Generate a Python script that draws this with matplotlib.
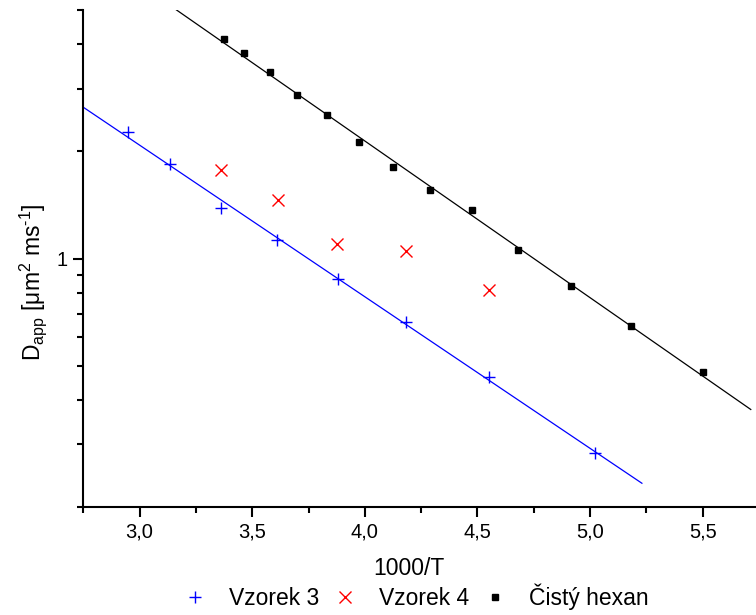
import numpy as np
import matplotlib
matplotlib.use("Agg")
import matplotlib.pyplot as plt
from matplotlib.ticker import MultipleLocator, FixedLocator, FuncFormatter, NullFormatter

plt.rcParams['font.family'] = ['Liberation Sans', 'DejaVu Sans']
plt.rcParams['mathtext.fontset'] = 'custom'
plt.rcParams['mathtext.rm'] = 'Liberation Sans'
plt.rcParams['mathtext.it'] = 'Liberation Sans'
plt.rcParams['mathtext.default'] = 'regular'

# data (x = 1000/T, y = D_app)
x_v3 = [2.949, 3.136, 3.361, 3.610, 3.879, 4.182, 4.552, 5.023]
y_v3 = [2.27, 1.84, 1.388, 1.126, 0.876, 0.662, 0.465, 0.283]

x_v4 = [3.361, 3.614, 3.876, 4.182, 4.551]
y_v4 = [1.77, 1.456, 1.102, 1.048, 0.815]

x_hex = [3.373, 3.462, 3.577, 3.700, 3.832, 3.974, 4.125, 4.290,
         4.475, 4.680, 4.915, 5.181, 5.501]
y_hex = [4.15, 3.78, 3.34, 2.88, 2.53, 2.13, 1.81, 1.56,
         1.373, 1.057, 0.838, 0.647, 0.480]

labels = ['Vzorek 3', 'Vzorek 4', 'Čistý hexan']


def fit_line(x, y):
    # linear fit of log(y), drawn 10 % past the data range on each side
    x = np.asarray(x)
    b, a = np.polyfit(x, np.log10(y), 1)
    span = x.max() - x.min()
    xs = np.array([x.min() - 0.1 * span, x.max() + 0.1 * span])
    return xs, 10 ** (a + b * xs)


fig = plt.figure(figsize=(7.56, 6.15), dpi=100)
ax = fig.add_axes([83.3 / 756, 108 / 615, 672.7 / 756, 497 / 615])

fx, fy = fit_line(x_v3, y_v3)
ax.plot(fx, fy, color='blue', lw=0.9)
fx, fy = fit_line(x_hex, y_hex)
ax.plot(fx, fy, color='black', lw=0.9)

ax.plot(x_v3, y_v3, ls='none', marker='+', ms=9, mew=1.0, color='blue', label=labels[0])
ax.plot(x_v4, y_v4, ls='none', marker='x', ms=8, mew=1.0, color='red', label=labels[1])
ax.plot(x_hex, y_hex, ls='none', marker='s', ms=5, color='black', label=labels[2])

ax.set_yscale('log')
ax.set_xlim(2.75, 5.737)
ax.set_ylim(0.2, 5)

ax.xaxis.set_major_locator(MultipleLocator(0.5))
ax.xaxis.set_minor_locator(MultipleLocator(0.25))
ax.xaxis.set_major_formatter(FuncFormatter(lambda v, p: f"{v:.1f}".replace('.', ',')))
ax.yaxis.set_major_locator(FixedLocator([1]))
ax.yaxis.set_major_formatter(FuncFormatter(lambda v, p: "1"))
ax.yaxis.set_minor_locator(FixedLocator([0.2, 0.3, 0.4, 0.5, 0.6, 0.7, 0.8, 0.9, 2, 3, 4, 5]))
ax.yaxis.set_minor_formatter(NullFormatter())

for s in ['top', 'right']:
    ax.spines[s].set_visible(False)
for s in ['left', 'bottom']:
    ax.spines[s].set_linewidth(1.5)
ax.tick_params(which='major', length=7, width=1.5, labelsize=14.5, pad=4)
ax.tick_params(which='minor', length=4.5, width=1.5)

ax.set_xlabel('1000/T', fontsize=16.5)
ax.xaxis.set_label_coords(0.484, -0.101)
# hyphen (U+2010) in the exponent, as in the original
ax.set_ylabel('D$_{app}$ [μm$^{2}$ ms$^{\u2010 1}$]', fontsize=16.5)
ax.yaxis.set_label_coords(-0.051, 0.453)

fig.legend(loc='center', bbox_to_anchor=(416 / 756, 1 - 597 / 615), ncol=3,
           frameon=False, fontsize=16.5, numpoints=1, handlelength=1.0,
           handletextpad=0.95, columnspacing=0.66, borderpad=0)

fig.savefig('out.png', dpi=100)
